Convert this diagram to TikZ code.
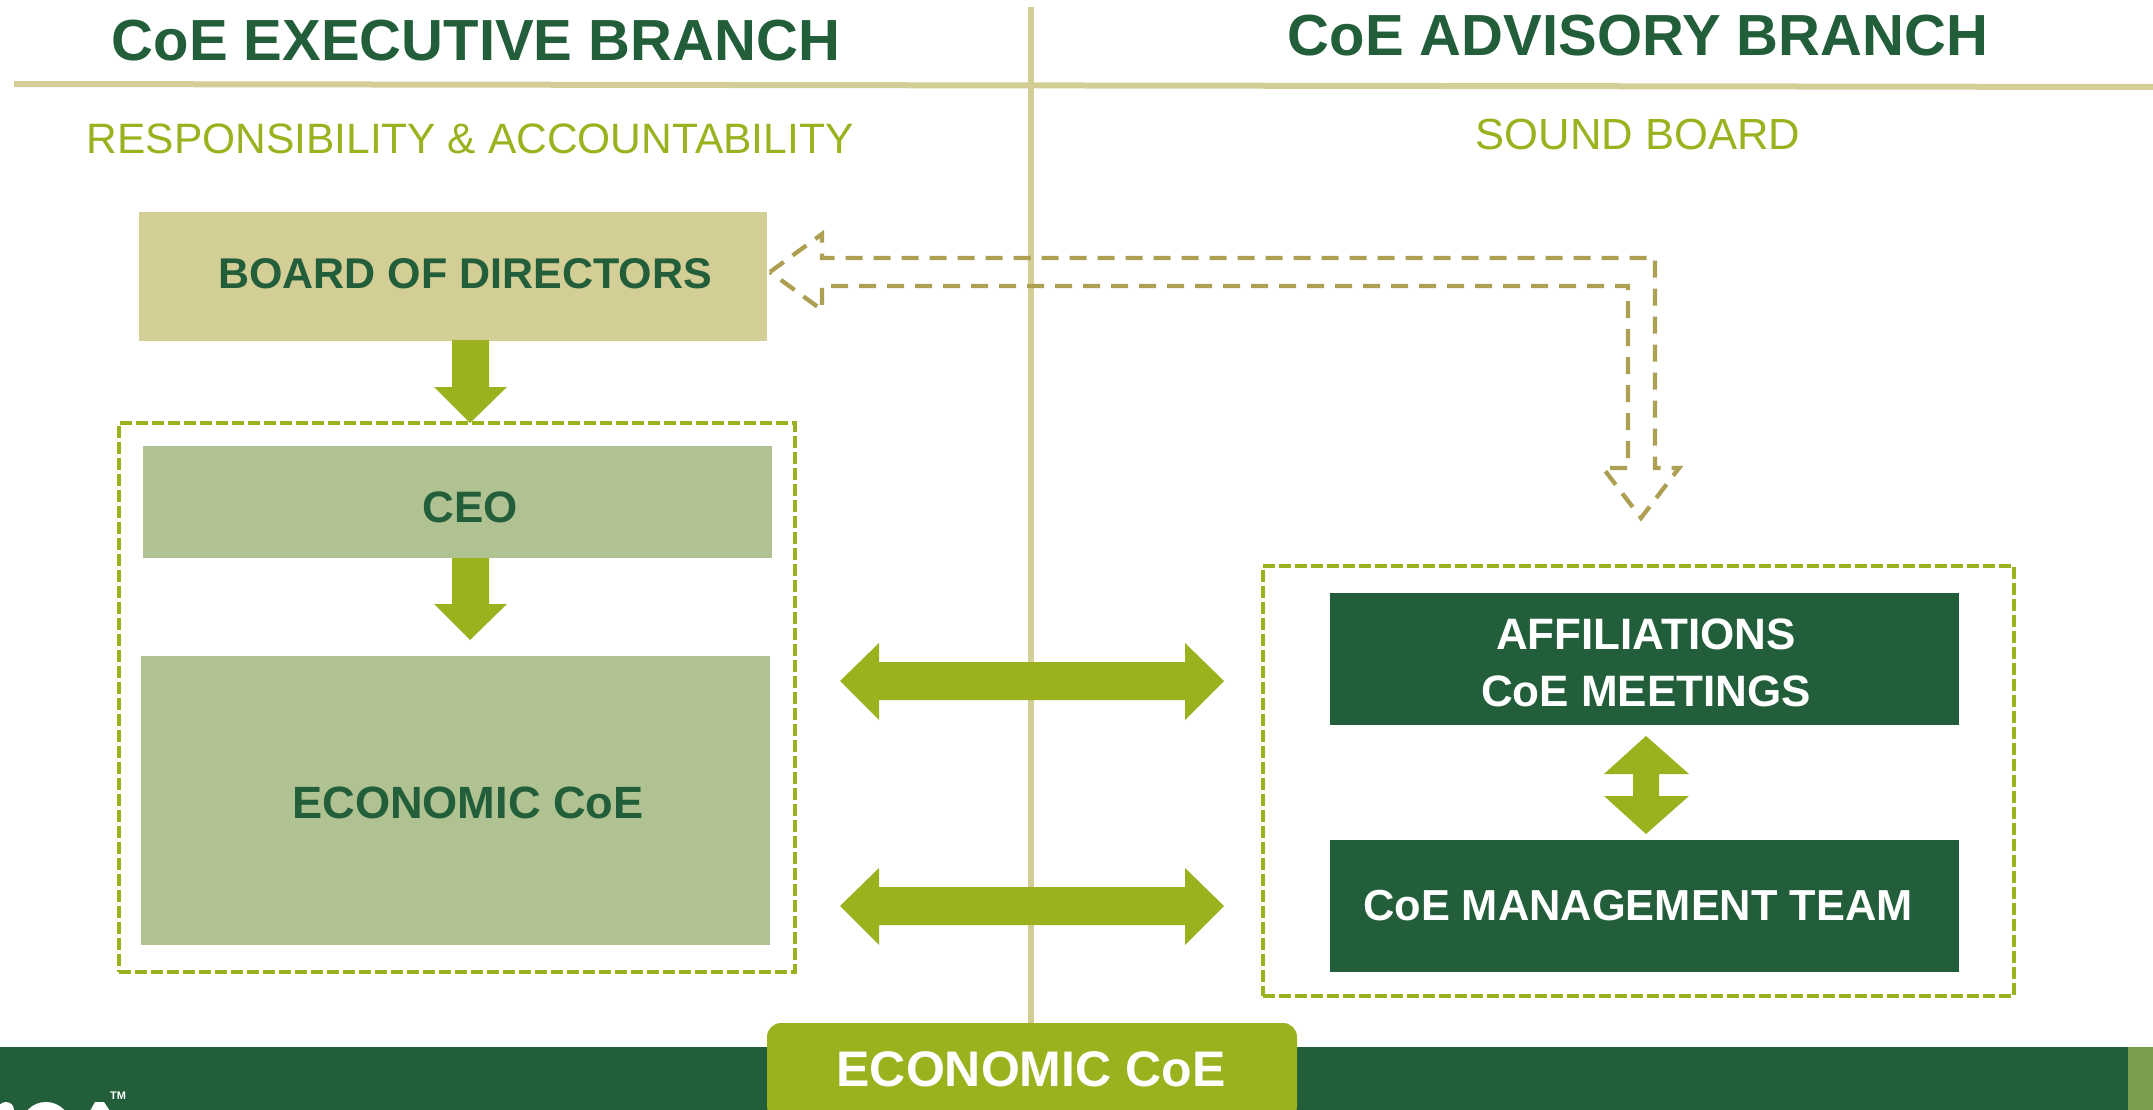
\documentclass[tikz,border=0pt]{standalone}
\usepackage{fontspec}
\setmainfont{Liberation Sans}
\definecolor{dkgreen}{HTML}{215E39}
\definecolor{olive}{HTML}{9BB11E}
\definecolor{khaki}{HTML}{D3CD96}
\definecolor{sage}{HTML}{B1C292}
\definecolor{dashbrown}{HTML}{ADA052}
\definecolor{stripe}{HTML}{7A9C4B}
\newcommand{\fsz}[1]{\fontsize{#1}{#1}\selectfont}
\tikzset{
 boxn/.style={inner sep=0pt,outer sep=0pt,anchor=north west},
 head/.style={font=\bfseries\fsz{58},text=dkgreen,inner sep=0pt},
 sublabel/.style={text=olive,inner sep=0pt},
 boxlabel/.style={inner sep=0pt,text=dkgreen},
 whitelabel/.style={inner sep=0pt,text=white},
 groupbox/.style={draw=olive,line width=4.2pt,dash pattern=on 12pt off 4pt,inner sep=0pt,outer sep=0pt,anchor=north west},
 rule/.style={draw=khaki,line width=6pt},
 blockarrow/.style={fill=olive,draw=none},
 hollowarrow/.style={draw=dashbrown,line width=4.3pt,dash pattern=on 17pt off 11pt}
}
\begin{document}
\begin{tikzpicture}[x=1pt,y=-1pt]
\useasboundingbox (0,0) rectangle (2153,1110);
\fill[white] (0,0) rectangle (2153,1110);
% rules
\coordinate (hl) at (14,84); \coordinate (hr) at (2153,87);
\coordinate (vt) at (1031,7); \coordinate (vb) at (1031,1030);
\draw[rule] (hl) -- (hr);
\draw[rule] (vt) -- (vb);
% titles
\node[head] (t1) at (476,41) {CoE EXECUTIVE BRANCH};
\node[head] (t2) at (1638,36) {CoE ADVISORY BRANCH};
\node[sublabel,font=\fsz{42.5}] (s1) at (470,139) {RESPONSIBILITY \& ACCOUNTABILITY};
\node[sublabel,font=\fsz{43.6}] (s2) at (1638,134) {SOUND BOARD};
% boxes
\node[boxn,fill=khaki,minimum width=628pt,minimum height=129pt] (bod) at (139,212) {};
\node[boxlabel,font=\bfseries\fsz{43}] (bodt) at (465,274) {BOARD OF DIRECTORS};
\node[groupbox,minimum width=676pt,minimum height=549pt] (leftg) at (119,423) {};
\node[boxn,fill=sage,minimum width=629pt,minimum height=112pt] (ceo) at (143,446) {};
\node[boxlabel,font=\bfseries\fsz{44}] (ceot) at (470,507) {CEO};
\node[boxn,fill=sage,minimum width=629pt,minimum height=289pt] (eco) at (141,656) {};
\node[boxlabel,font=\bfseries\fsz{45.2}] (ecot) at (468,803) {ECONOMIC CoE};
\node[groupbox,minimum width=751pt,minimum height=430pt] (rightg) at (1263,566) {};
\node[boxn,fill=dkgreen,minimum width=629pt,minimum height=132pt] (aff) at (1330,593) {};
\node[whitelabel,font=\bfseries\fsz{44},align=center] (afft) at (1646,663) {AFFILIATIONS\\[13pt]CoE MEETINGS};
\node[boxn,fill=dkgreen,minimum width=629pt,minimum height=132pt] (mgt) at (1330,840) {};
\node[whitelabel,font=\bfseries\fsz{43.4}] (mgtt) at (1638,906) {CoE MANAGEMENT TEAM};
% block arrows
\fill[blockarrow] (452,340) -- (489,340) -- (489,387) -- (507,387) -- (470,423) -- (434,387) -- (452,387) -- cycle;
\fill[blockarrow] (452,558) -- (489,558) -- (489,604) -- (507,604) -- (470,640) -- (434,604) -- (452,604) -- cycle;
\fill[blockarrow] (840,681) -- (879,643) -- (879,662) -- (1185,662) -- (1185,643) -- (1224,681) -- (1185,720) -- (1185,700) -- (879,700) -- (879,720) -- cycle;
\fill[blockarrow] (840,906) -- (879,868) -- (879,887) -- (1185,887) -- (1185,868) -- (1224,906) -- (1185,945) -- (1185,925) -- (879,925) -- (879,945) -- cycle;
\fill[blockarrow] (1646,736) -- (1689,774) -- (1659,774) -- (1659,796) -- (1689,796) -- (1646,834) -- (1604,796) -- (1633,796) -- (1633,774) -- (1604,774) -- cycle;
% hollow arrow
\draw[hollowarrow] (770,272) -- (822,234) -- (822,258) -- (1655,258) -- (1655,468) -- (1679,468) -- (1641,518) -- (1603,468) -- (1628,468) -- (1628,286) -- (822,286) -- (822,310) -- cycle;
% footer
\begin{scope}
\clip (0,0) rectangle (2153,1110);
\fill[dkgreen] (0,1047) rectangle (2128,1110);
\fill[stripe] (2128,1047) rectangle (2153,1110);
\fill[olive,rounded corners=14pt] (767,1023) rectangle (1297,1120);
\fill[white] (6,1110) circle (8);
\draw[white,line width=9pt] (46,1127) circle (20.5);
\fill[white] (95,1102) -- (104,1102) -- (110,1111) -- (90,1111) -- cycle;
\end{scope}
\node[whitelabel,font=\bfseries\fsz{50}] (foot) at (1031,1069) {ECONOMIC CoE};
\node[whitelabel,font=\bfseries\fsz{11}] (tm) at (118,1095.5) {TM};
\end{tikzpicture}
\end{document}
